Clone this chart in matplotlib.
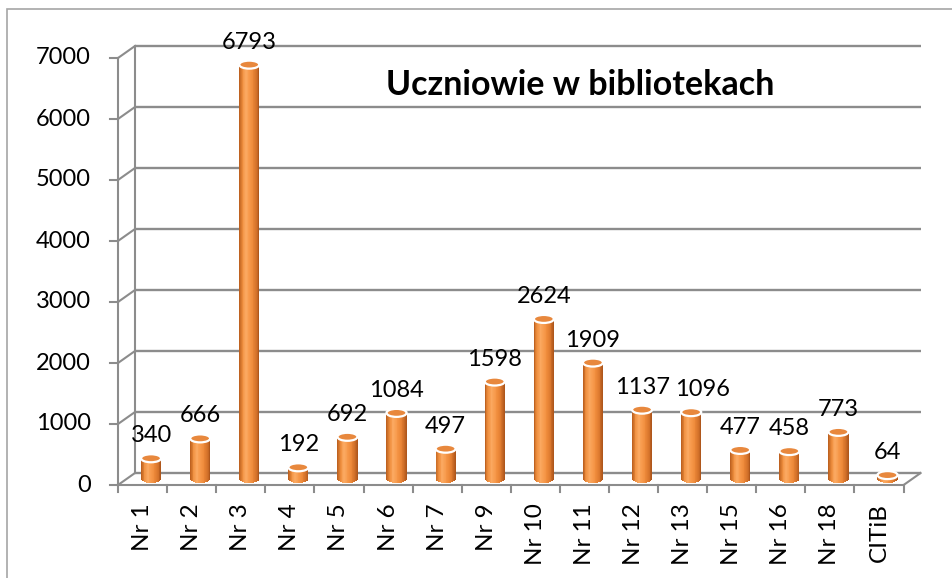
import numpy as np
import matplotlib.pyplot as plt
from matplotlib.patches import Ellipse, Rectangle
from matplotlib.colors import LinearSegmentedColormap

# data
categories = ["Nr 1", "Nr 2", "Nr 3", "Nr 4", "Nr 5", "Nr 6", "Nr 7", "Nr 9", "Nr 10",
              "Nr 11", "Nr 12", "Nr 13", "Nr 15", "Nr 16", "Nr 18", "CITiB"]
values = [340, 666, 6793, 192, 692, 1084, 497, 1598, 2624, 1909, 1137, 1096, 477, 458, 773, 64]
y_ticks = [0, 1000, 2000, 3000, 4000, 5000, 6000, 7000]
title = "Uczniowie w bibliotekach"

# layout calibration (pixels of a 953x578 figure)
W, H = 953, 578
x0_px, cat_px = 118, 49.1       # front-left corner, width of one category
y0_px, unit_px = 485, 0.061     # front floor, pixels per unit
depth_dx = 17 / cat_px          # depth offset in category units
depth_dv = 12 / unit_px         # depth offset in value units

grid_col = "#8c8c8c"
plt.rcParams["font.family"] = ["Lato", "DejaVu Sans"]

fig = plt.figure(figsize=(W / 100, H / 100), dpi=100)
ax = fig.add_axes([0, 0, 1, 1])
ax.set_xlim(-0.5 - x0_px / cat_px, -0.5 + (W - x0_px) / cat_px)
ax.set_ylim((y0_px - H) / unit_px, y0_px / unit_px)
ax.axis("off")

n = len(categories)
left, right = -0.5, n - 0.5
ymax = y_ticks[-1]

# outer frame
fig.patches.append(Rectangle((7 / W, -0.1), 1.2, 1 - 9 / H + 0.1, transform=fig.transFigure,
                             fill=False, edgecolor="#a6a6a6", lw=1.2))

# back wall gridlines + side wall
for v in y_ticks:
    ax.plot([left + depth_dx, right + depth_dx], [v + depth_dv, v + depth_dv],
            color=grid_col, lw=1.7, zorder=1, solid_capstyle="butt")
    ax.plot([left, left + depth_dx], [v, v + depth_dv], color=grid_col, lw=1.5, zorder=1)
    ax.plot([left - 0.16, left], [v, v], color=grid_col, lw=1.5, zorder=1)
    ax.text(left - 0.55, v, str(v), ha="right", va="center", fontsize=17)
ax.plot([left + depth_dx, left + depth_dx], [depth_dv, ymax + depth_dv], color=grid_col, lw=1.5, zorder=1)
ax.plot([left, left], [0, ymax], color=grid_col, lw=1.5, zorder=1)

# floor
ax.plot([left, right], [0, 0], color=grid_col, lw=1.5, zorder=1)
ax.plot([right, right + depth_dx], [0, depth_dv], color=grid_col, lw=1.5, zorder=1)
for i in range(n + 1):
    ax.plot([left + i, left + i], [0, -7 / unit_px], color=grid_col, lw=1.5, zorder=1)

for i, c in enumerate(categories):
    ax.text(i, -18 / unit_px, c, rotation=90, ha="center", va="top", fontsize=17.5)

# cylinder bars
cmap = LinearSegmentedColormap.from_list(
    "cyl", ["#b85c1c", "#f0903f", "#fbaa63", "#f79a4c", "#ee8a3a", "#d8752c", "#a9531a"])
bar_w = 0.41
n_strips = 24
ell_h = 8 / unit_px
for i, v in enumerate(values):
    cx = i + depth_dx / 2
    base = depth_dv / 2
    top = base + v
    for k in range(n_strips):
        u0 = -1 + 2 * k / n_strips
        u1 = u0 + 2 / n_strips
        um = (u0 + u1) / 2
        drop = ell_h / 2 * np.sqrt(max(0.0, 1 - um ** 2))
        ax.add_patch(Rectangle((cx + u0 * bar_w / 2, base - drop), bar_w / n_strips * 1.05,
                               top - base + drop, facecolor=cmap((um + 1) / 2),
                               edgecolor="none", zorder=3))
    ax.add_patch(Ellipse((cx, top), bar_w, ell_h, facecolor="#e8883d",
                         edgecolor="white", lw=1.6, zorder=4))
    # label for Nr 13 is pushed right to clear the Nr 12 label, as in the original
    dx_lab = 8 if categories[i] == "Nr 13" else 0
    ax.annotate(str(v), (cx, top), xytext=(dx_lab, 11.5), textcoords="offset points",
                ha="center", va="baseline", fontsize=17, zorder=5)

# title
ax.text(8.91, 6200 + depth_dv, title, ha="center", va="baseline", fontsize=24.5, fontweight="bold")

fig.savefig("out.png", dpi=100)
